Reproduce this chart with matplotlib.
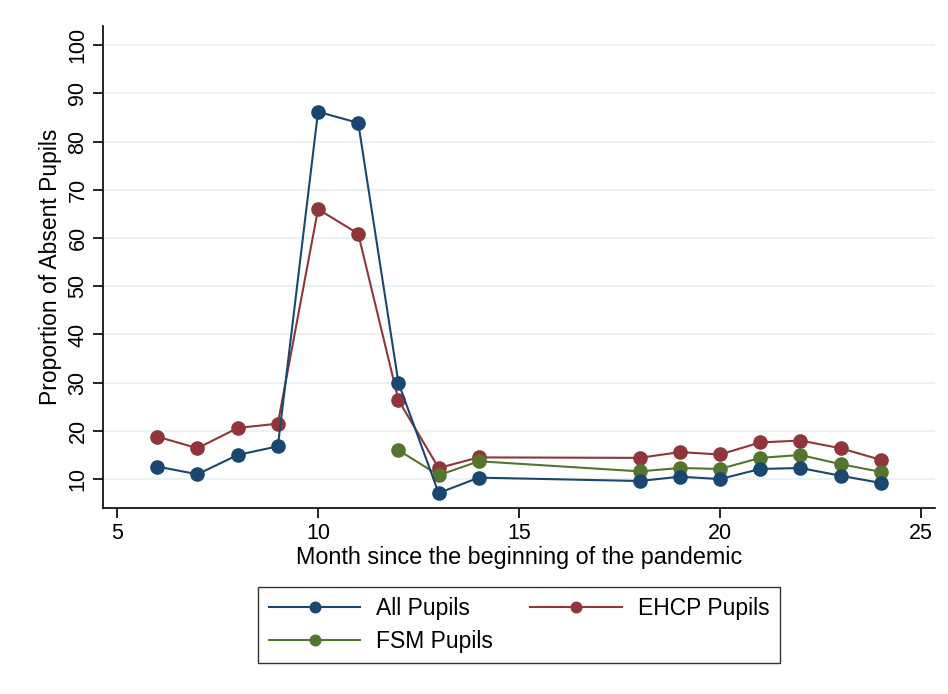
import matplotlib
matplotlib.use("Agg")
import matplotlib.pyplot as plt

months = [6, 7, 8, 9, 10, 11, 12, 13, 14, 18, 19, 20, 21, 22, 23, 24]
all_pupils = [12.6, 11.0, 15.0, 16.8, 86.2, 83.9, 30.0, 7.1, 10.3, 9.6, 10.5, 10.0, 12.1, 12.3, 10.7, 9.2]
ehcp_pupils = [18.8, 16.4, 20.6, 21.5, 66.0, 60.9, 26.4, 12.3, 14.5, 14.4, 15.6, 15.1, 17.6, 18.0, 16.4, 14.0]
fsm_months = [12, 13, 14, 18, 19, 20, 21, 22, 23, 24]
fsm_pupils = [16.0, 10.8, 13.7, 11.6, 12.3, 12.1, 14.4, 15.0, 13.1, 11.5]

xticks = [5, 10, 15, 20, 25]
yticks = [10, 20, 30, 40, 50, 60, 70, 80, 90, 100]

plt.rcParams['font.family'] = ['Liberation Sans', 'DejaVu Sans']

fig = plt.figure(figsize=(9.48, 6.94), dpi=100)
fig.patch.set_facecolor('white')
ax = fig.add_axes([103/948, 1-508/694, (935-103)/948, (508-26)/694])

navy = '#1a476f'
maroon = '#90353b'
green = '#55752f'

for yv in yticks:
    ax.axhline(yv, color='#eaf2f3', lw=1.5, zorder=0)

h1, = ax.plot(months, all_pupils, '-o', color=navy, lw=1.5, ms=9.5, label='All Pupils', zorder=3)
h2, = ax.plot(months, ehcp_pupils, '-o', color=maroon, lw=1.5, ms=9.5, label='EHCP Pupils', zorder=2)
h3, = ax.plot(fsm_months, fsm_pupils, '-o', color=green, lw=1.5, ms=9.5, label='FSM Pupils', zorder=2.5)

ax.set_xlim(4.65, 25.35)
ax.set_ylim(4.0, 104.0)
ax.set_xticks(xticks)
ax.set_yticks(yticks)
ax.tick_params(axis='both', labelsize=15.5, length=7, width=1.2, colors='black')
for lab in ax.get_yticklabels():
    lab.set_rotation(90)
    lab.set_va('center')
ax.spines['top'].set_visible(False)
ax.spines['right'].set_visible(False)
ax.spines['left'].set_linewidth(1.2)
ax.spines['bottom'].set_linewidth(1.2)

ax.set_xlabel('Month since the beginning of the pandemic', fontsize=16.8, labelpad=2)
ax.set_ylabel('Proportion of Absent Pupils', fontsize=16.5, labelpad=4)

leg = fig.legend([h1, h3, h2], ['All Pupils', 'FSM Pupils', 'EHCP Pupils'],
                 loc='center', bbox_to_anchor=(519/948, 1-625/694), ncol=2, fontsize=16.5,
                 frameon=True, fancybox=False, edgecolor='black', handlelength=4.0,
                 columnspacing=1.6, borderpad=0.45, labelspacing=0.45, handletextpad=0.7,
                 markerscale=0.8)
leg.get_frame().set_linewidth(1.0)

fig.savefig('out.png', dpi=100)
